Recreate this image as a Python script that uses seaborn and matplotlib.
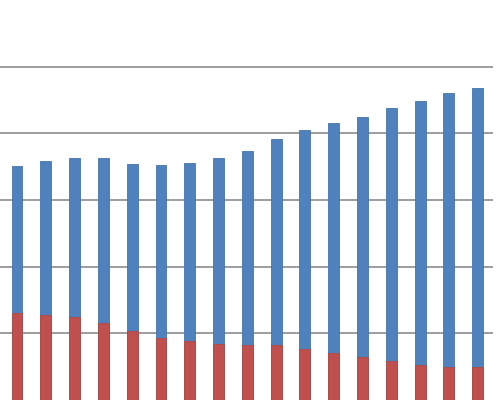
import matplotlib
matplotlib.use("Agg")
import matplotlib.pyplot as plt
import seaborn as sns
import pandas as pd

# values (grid step = 1)
periods = [str(i) for i in range(1, 18)]
totals = [3.51, 3.58, 3.63, 3.63, 3.54, 3.52, 3.56, 3.63, 3.74,
          3.92, 4.05, 4.16, 4.25, 4.38, 4.49, 4.61, 4.68]
red_part = [1.30, 1.28, 1.24, 1.15, 1.04, 0.93, 0.88, 0.84, 0.82,
            0.82, 0.77, 0.71, 0.64, 0.59, 0.53, 0.50, 0.49]

df = pd.DataFrame({"period": periods, "total": totals, "red": red_part})

sns.set_style("white")
fig = plt.figure(figsize=(5, 4), dpi=100)
ax = fig.add_axes([0, 0, 0.986, 1])

# blue = full stack, red drawn over the lower part
sns.barplot(data=df, x="period", y="total", color="#4F81BD", saturation=1,
            width=0.38, edgecolor="#4474AD", linewidth=0.6, ax=ax, zorder=3)
sns.barplot(data=df, x="period", y="red", color="#C0504D", saturation=1,
            width=0.38, edgecolor="#B04845", linewidth=0.6, ax=ax, zorder=4)

ax.set_xlim(-0.59, 16.53)
ax.set_ylim(0, 6)
ax.set_yticks(range(1, 6))
ax.yaxis.grid(True, color="#8C8C8C", linewidth=1.2)
ax.set_axisbelow(True)
ax.set_xticks([])
ax.set_yticklabels([])
ax.tick_params(left=False, bottom=False)
ax.set_xlabel("")
ax.set_ylabel("")
for s in ax.spines.values():
    s.set_visible(False)

fig.savefig("out.png", dpi=100)
